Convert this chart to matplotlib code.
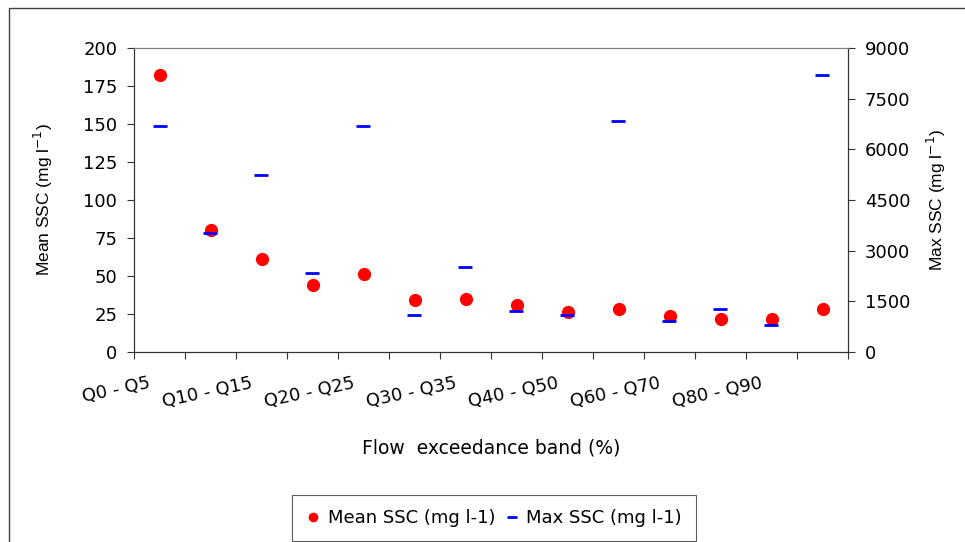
import matplotlib
matplotlib.use("Agg")
from matplotlib import pyplot as plt
from matplotlib.patches import Rectangle
import numpy as np

# horizontal text in the reference is wide, DejaVu matches its width best
plt.rcParams['font.family'] = ['DejaVu Sans']

# flow exceedance bands
bands = ['Q0 - Q5', 'Q5 - Q10', 'Q10 - Q15', 'Q15 - Q20', 'Q20 - Q25',
         'Q25 - Q30', 'Q30 - Q35', 'Q35 - Q40', 'Q40 - Q50', 'Q50 - Q60',
         'Q60 - Q70', 'Q70 - Q80', 'Q80 - Q90', 'Q90 - Q100']
# mean SSC, left axis (mg l-1)
meanSSC = [182, 80, 61, 44, 51, 34, 35, 31, 26, 28.5, 23.5, 22, 22, 28.5]
# max SSC, right axis (mg l-1)
maxSSC = [6700, 3520, 5240, 2340, 6700, 1090, 2510, 1210, 1090, 6850,
          930, 1270, 800, 8200]

x = np.arange(len(bands))
fs = 13

fig = plt.figure(figsize=(9.65, 5.42), dpi=100)
ax = fig.add_axes([134/965, 1-352/542, (848-134)/965, (352-48)/542])
ax2 = ax.twinx()

ax.plot(x, meanSSC, linestyle='none', marker='o', color='#ff0000',
        markersize=8.5, label='Mean SSC (mg l-1)', zorder=3)
ax2.plot(x, maxSSC, linestyle='none', marker='_', color='#0000ff',
         markersize=9.5, markeredgewidth=2.0, label='Max SSC (mg l-1)')

ax.set_xlim(-0.5, len(bands) - 0.5)
ax.set_ylim(0, 200)
ax.set_yticks(np.arange(0, 201, 25))
ax2.set_ylim(0, 9000)
ax2.set_yticks(np.arange(0, 9001, 1500))

# tick marks at category boundaries, labels on every other category
# (label anchors sit a little left of the category centre, as in Excel)
ax.set_xticks(np.arange(-0.5, len(bands), 1))
ax.set_xticklabels([])
ax.set_xticks(x - 0.22, minor=True)
ax.set_xticklabels([b if i % 2 == 0 else '' for i, b in enumerate(bands)],
                   minor=True, rotation=12, ha='right', va='top',
                   rotation_mode='anchor')
ax.tick_params(axis='x', which='major', direction='out', length=5,
               color='#333333')
ax.tick_params(axis='x', which='minor', length=0, pad=16, labelsize=fs)
ax.tick_params(axis='y', direction='out', length=5, pad=7, labelsize=fs,
               color='#333333')
ax2.tick_params(axis='y', direction='out', length=5, pad=7, labelsize=fs,
                color='#333333')

for a in (ax, ax2):
    for side in ('left', 'right', 'bottom'):
        a.spines[side].set_color('#333333')
    a.spines['top'].set_color('#808080')

ax.set_ylabel('Mean SSC (mg l$^{-1}$)', fontsize=12.5,
              family=['Liberation Sans', 'DejaVu Sans'])
ax.yaxis.set_label_coords((55-134)/714, 0.5)
ax2.set_ylabel('Max SSC (mg l$^{-1}$)', fontsize=12.5,
               family=['Liberation Sans', 'DejaVu Sans'])
ax2.yaxis.set_label_coords((925-134)/714, 0.5)
ax.set_xlabel('Flow  exceedance band (%)', fontsize=13.5)
ax.xaxis.set_label_coords(0.5, -0.285)

h1, l1 = ax.get_legend_handles_labels()
h2, l2 = ax2.get_legend_handles_labels()
leg = fig.legend(h1 + h2, l1 + l2, ncol=2, loc='center',
                 bbox_to_anchor=(494/965, 1-518/542), fontsize=fs,
                 frameon=True, fancybox=False, edgecolor='#333333',
                 handlelength=0.8, handletextpad=0.4, columnspacing=0.5,
                 markerscale=0.7, borderpad=0.8)
leg.get_frame().set_linewidth(0.8)

# chart area border
fig.patches.append(Rectangle((9/965, -0.1), 1.2, (542-8)/542 + 0.1,
                             transform=fig.transFigure, fill=False,
                             edgecolor='#404040', linewidth=1.0))

fig.savefig('out.png', dpi=100)
